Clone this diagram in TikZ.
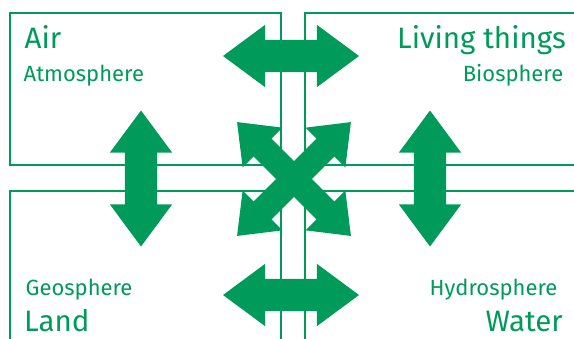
\documentclass[tikz,border=0pt]{standalone}
\usepackage{fontspec}
\setmainfont{Fira Sans}
\usetikzlibrary{shapes.arrows, positioning}
\definecolor{leaf}{RGB}{0,155,90}

\begin{document}
\begin{tikzpicture}[
    x=1pt, y=-1pt,
    sphere/.style={draw=leaf, line width=2pt, rectangle, inner sep=0pt, minimum width=#1},
    title/.style={text=leaf, inner sep=0pt, font=\fontsize{29.5}{29.5}\selectfont},
    subtitle/.style={text=leaf, inner sep=0pt, font=\fontsize{22}{22}\selectfont},
    flow/.style={double arrow, fill=leaf, draw=none, inner xsep=0pt, inner ysep=16pt, minimum height=136pt, double arrow head extend=15pt, double arrow tip angle=73},
    cross/.style={double arrow, fill=leaf, draw=none, inner xsep=0pt, inner ysep=12.5pt, minimum height=161pt, double arrow head extend=15.5pt, double arrow tip angle=76}
]
\useasboundingbox (0,0) rectangle (574,338);
\clip (0,0) rectangle (574,338);

% Quatro esferas
\node[sphere=271pt, minimum height=152pt] (air) at (145.5, 89) {};
\node[sphere=295pt, minimum height=152pt] (life) at (452.5, 89) {};
\node[sphere=271pt, minimum height=169pt] (land) at (145.5, 275.5) {};
\node[sphere=295pt, minimum height=169pt] (water) at (452.5, 275.5) {};

% Textos
\node[title, anchor=base west] (air-t) at (24.5, 48.3) {Air};
\node[subtitle, anchor=base west] (air-s) at (23.5, 81.7) {Atmosphere};
\node[title, anchor=base east] (life-t) at (566, 48.3) {Living things};
\node[subtitle, anchor=base east] (life-s) at (563.5, 81) {Biosphere};
\node[subtitle, anchor=base west] (land-s) at (25.5, 295) {Geosphere};
\node[title, anchor=base west] (land-t) at (24, 331.7) {Land};
\node[subtitle, anchor=base east] (water-s) at (557.5, 295) {Hydrosphere};
\node[title, anchor=base east] (water-t) at (563, 331.7) {Water};

% Setas
\node[flow] (air-life) at (291, 56) {};
\node[flow] (land-water) at (291, 295) {};
\node[flow, rotate=90] (air-land) at (141, 178.5) {};
\node[flow, rotate=90] (life-water) at (430, 178.5) {};
\node[cross, rotate=45] (air-water) at (294, 179) {};
\node[cross, rotate=-45] (life-land) at (294, 179) {};

\end{tikzpicture}
\end{document}
